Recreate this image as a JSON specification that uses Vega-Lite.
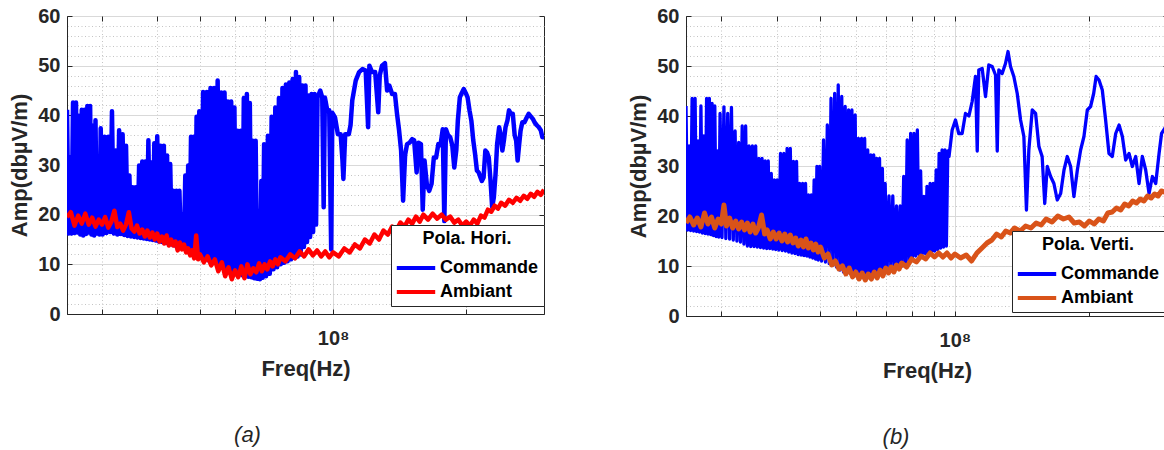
{
"$schema":"https://vega.github.io/schema/vega-lite/v6.json",
"background":"white",
"padding":{"left":8,"top":5,"right":0,"bottom":0},
"config":{
 "font":"Liberation Sans",
 "view":{"stroke":"#262626","strokeWidth":1},
 "axis":{"labelFont":"Liberation Sans","labelFontSize":20,"labelFontWeight":"bold","labelColor":"#262626","titleFont":"Liberation Sans","titleFontSize":22,"titleFontWeight":"bold","titleColor":"#262626","domainColor":"#262626","domainWidth":1,"tickColor":"#262626","tickWidth":1},
 "legend":{"labelFont":"Liberation Sans","titleFont":"Liberation Sans"},
 "title":{"font":"Liberation Sans"}
},
"datasets":{
"cmdA":[
{"f":25e6,"a":41.1},{"f":25.2e6,"a":16.2},{"f":25.4e6,"a":31.5},{"f":25.6e6,"a":16.2},{"f":25.8e6,"a":42.6},{"f":26e6,"a":16.3},{"f":26.2e6,"a":42.6},{"f":26.4e6,"a":16.4},{"f":26.6e6,"a":39.9},{"f":26.8e6,"a":16},{"f":27e6,"a":41.1},{"f":27.2e6,"a":15.8},{"f":27.4e6,"a":41.1},{"f":27.6e6,"a":16.1},{"f":27.8e6,"a":41.9},{"f":28e6,"a":16.4},{"f":28.2e6,"a":41.9},{"f":28.4e6,"a":16},{"f":28.6e6,"a":37.9},{"f":28.8e6,"a":15.8},{"f":29e6,"a":39},{"f":29.2e6,"a":16.2},{"f":29.4e6,"a":31},{"f":29.6e6,"a":16},{"f":29.8e6,"a":37.4},
{"f":30.1e6,"a":16},{"f":30.4e6,"a":35.7},{"f":30.7e6,"a":16.3},{"f":31e6,"a":35.7},{"f":31.3e6,"a":16.5},{"f":31.6e6,"a":40.8},{"f":31.9e6,"a":16.2},{"f":32.2e6,"a":32.9},{"f":32.5e6,"a":16},{"f":32.8e6,"a":37},{"f":33.1e6,"a":16.1},{"f":33.4e6,"a":36.2},{"f":33.7e6,"a":15.9},{"f":34e6,"a":33.9},{"f":34.3e6,"a":15.7},{"f":34.6e6,"a":27.9},{"f":34.9e6,"a":15.6},{"f":35.2e6,"a":25.5},{"f":35.5e6,"a":15.5},{"f":35.8e6,"a":25.5},{"f":36.1e6,"a":15.4},{"f":36.4e6,"a":29.9},{"f":36.7e6,"a":15.3},{"f":37e6,"a":30.7},{"f":37.3e6,"a":15.2},{"f":37.6e6,"a":30.7},{"f":37.9e6,"a":15.1},{"f":38.2e6,"a":35},{"f":38.5e6,"a":15},{"f":38.8e6,"a":30.5},{"f":39.1e6,"a":14.9},{"f":39.4e6,"a":34.4},{"f":39.7e6,"a":14.8},{"f":40e6,"a":35.8},
{"f":40.35e6,"a":14.6},{"f":40.7e6,"a":33.9},{"f":41.05e6,"a":14.5},{"f":41.4e6,"a":33.9},{"f":41.75e6,"a":14.3},{"f":42.1e6,"a":31.9},{"f":42.45e6,"a":14.2},{"f":42.8e6,"a":30.2},{"f":43.15e6,"a":14},{"f":43.5e6,"a":24.8},{"f":43.85e6,"a":13.8},{"f":44.2e6,"a":24.8},{"f":44.55e6,"a":13.6},{"f":44.9e6,"a":24.8},{"f":45.25e6,"a":13.4},{"f":45.6e6,"a":20},{"f":45.95e6,"a":13.2},{"f":46.3e6,"a":27.9},{"f":46.65e6,"a":13},{"f":47e6,"a":29.9},{"f":47.35e6,"a":12.8},{"f":47.7e6,"a":35.7},{"f":48.05e6,"a":12.5},{"f":48.4e6,"a":35.7},{"f":48.75e6,"a":12.2},{"f":49.1e6,"a":39.7},{"f":49.45e6,"a":11.9},{"f":49.8e6,"a":40.8},
{"f":50.3e6,"a":11.4},{"f":50.8e6,"a":44.7},{"f":51.3e6,"a":11.1},{"f":51.8e6,"a":44.7},{"f":52.3e6,"a":10.8},{"f":52.8e6,"a":45.5},{"f":53.3e6,"a":10.5},{"f":53.8e6,"a":45.5},{"f":54.3e6,"a":10.2},{"f":54.8e6,"a":47},{"f":55.3e6,"a":9.8},{"f":55.8e6,"a":44.6},{"f":56.3e6,"a":9.6},{"f":56.8e6,"a":44.6},{"f":57.3e6,"a":9.3},{"f":57.8e6,"a":42.8},{"f":58.3e6,"a":9},{"f":58.8e6,"a":42.8},{"f":59.3e6,"a":8.6},{"f":59.8e6,"a":41.6},{"f":60.3e6,"a":8.2},{"f":60.8e6,"a":36.9},{"f":61.3e6,"a":8},{"f":61.8e6,"a":36.9},{"f":62.3e6,"a":7.8},{"f":62.8e6,"a":43.5},{"f":63.3e6,"a":7.6},{"f":63.8e6,"a":44.3},{"f":64.3e6,"a":7.5},{"f":64.8e6,"a":42.5},{"f":65.3e6,"a":7.4},{"f":65.8e6,"a":34.9},{"f":66.3e6,"a":7.2},{"f":66.8e6,"a":34.9},{"f":67.3e6,"a":7.1},{"f":67.8e6,"a":20.8},{"f":68.3e6,"a":7},{"f":68.8e6,"a":26.8},{"f":69.3e6,"a":7.3},{"f":69.8e6,"a":34.2},
{"f":70.5e6,"a":7.6},{"f":71.2e6,"a":35.9},{"f":71.9e6,"a":8.1},{"f":72.6e6,"a":39.7},{"f":73.3e6,"a":9},{"f":74e6,"a":41.6},{"f":74.7e6,"a":9.4},{"f":75.4e6,"a":43.5},{"f":76.1e6,"a":10},{"f":76.8e6,"a":45.5},{"f":77.5e6,"a":10.3},{"f":78.2e6,"a":46.2},{"f":78.9e6,"a":10.6},{"f":79.6e6,"a":46.6},{"f":80.3e6,"a":11},{"f":81e6,"a":47.3},{"f":81.7e6,"a":11.3},{"f":82.4e6,"a":48.7},{"f":83.1e6,"a":11.6},{"f":83.8e6,"a":47.7},{"f":84.5e6,"a":12},{"f":85.2e6,"a":46},{"f":85.9e6,"a":13.5},{"f":86.6e6,"a":46},{"f":87.3e6,"a":14.5},{"f":88e6,"a":44},{"f":88.7e6,"a":15.5},{"f":89.4e6,"a":44.3},{"f":90.1e6,"a":16.5},{"f":90.8e6,"a":44.3},{"f":91.5e6,"a":18},{"f":92.2e6,"a":43.6},
{"f":93.5e6,"a":45},{"f":94.5e6,"a":43.6},{"f":95.2e6,"a":21.5},{"f":95.8e6,"a":43.6},{"f":97e6,"a":41},{"f":98e6,"a":41},{"f":99e6,"a":13},{"f":99.6e6,"a":40.5},{"f":101e6,"a":39.6},{"f":102.5e6,"a":36.2},{"f":104e6,"a":36.2},{"f":105e6,"a":30.9},{"f":105.5e6,"a":27.2},{"f":106.5e6,"a":36.2},{"f":108.5e6,"a":36.2},{"f":109.5e6,"a":38},{"f":110.5e6,"a":43},{"f":112.5e6,"a":47},{"f":114.5e6,"a":48.7},{"f":116.5e6,"a":49.3},{"f":118.5e6,"a":49},{"f":120e6,"a":37.6},{"f":120.8e6,"a":50},{"f":122.5e6,"a":48.7},{"f":124.5e6,"a":48.7},{"f":126.5e6,"a":40.6},{"f":127.5e6,"a":48},{"f":129e6,"a":50},{"f":131e6,"a":50.5},{"f":132.5e6,"a":45},{"f":134e6,"a":46},{"f":136e6,"a":44.3},{"f":138e6,"a":44.3},{"f":139.5e6,"a":40.3},{"f":141e6,"a":37},{"f":142.5e6,"a":32.9},{"f":144e6,"a":22.8},{"f":145.5e6,"a":32},{"f":147e6,"a":34.2},{"f":149e6,"a":34.5},{"f":151e6,"a":35.2},{"f":152.5e6,"a":35},{"f":154.5e6,"a":28.5},{"f":156e6,"a":34.5},{"f":158e6,"a":34.2},{"f":159.5e6,"a":21},{"f":161e6,"a":30.9},{"f":163e6,"a":26},{"f":165e6,"a":24.8},{"f":167e6,"a":26.2},{"f":169e6,"a":31.5},{"f":171e6,"a":31.5},{"f":173e6,"a":34.2},{"f":175e6,"a":34},{"f":177e6,"a":37.2},{"f":178.5e6,"a":18.7},{"f":180e6,"a":37.2},{"f":182e6,"a":36},{"f":184e6,"a":35.6},{"f":186e6,"a":34},{"f":188e6,"a":29.5},{"f":190e6,"a":33},{"f":191.5e6,"a":38.9},{"f":193.5e6,"a":43.6},{"f":195.5e6,"a":44.5},{"f":197.5e6,"a":45.3},{"f":199.5e6,"a":44.5},{"f":201.5e6,"a":43.6},{"f":203.5e6,"a":41},{"f":205.5e6,"a":38.9},{"f":207.5e6,"a":35},{"f":209.5e6,"a":32.2},{"f":211.5e6,"a":28.9},{"f":213.5e6,"a":28.5},{"f":215.5e6,"a":27.5},{"f":217e6,"a":26.8},{"f":219e6,"a":27.5},{"f":221e6,"a":32.9},{"f":223e6,"a":32.5},{"f":225e6,"a":31.5},{"f":227e6,"a":27},{"f":229e6,"a":21.5},{"f":231e6,"a":23.5},{"f":233e6,"a":28},{"f":235e6,"a":34.2},{"f":237.5e6,"a":37.6},{"f":239.5e6,"a":36},{"f":241.5e6,"a":32.9},{"f":243.5e6,"a":35},{"f":245.5e6,"a":37.6},{"f":248e6,"a":39},{"f":250e6,"a":41},{"f":252.5e6,"a":40.3},{"f":255e6,"a":40.3},{"f":257.5e6,"a":36},{"f":259.5e6,"a":34.9},{"f":261.5e6,"a":30.9},{"f":263.5e6,"a":34},{"f":265.5e6,"a":36.9},{"f":268e6,"a":38.6},{"f":271e6,"a":38.6},{"f":274e6,"a":39.5},{"f":277e6,"a":40.3},{"f":280e6,"a":39.8},{"f":283e6,"a":39.3},{"f":286e6,"a":38.5},{"f":289e6,"a":38},{"f":292e6,"a":37.6},{"f":295e6,"a":37},{"f":297.5e6,"a":35.6},{"f":300e6,"a":35.6}
],
"ambA":[
{"f":25e6,"a":19.5},{"f":25.5e6,"a":20.5},{"f":26e6,"a":17.8},{"f":26.5e6,"a":19.8},{"f":27e6,"a":18.2},{"f":27.5e6,"a":20.2},{"f":28e6,"a":18},{"f":28.5e6,"a":19.4},{"f":29e6,"a":17.6},{"f":29.5e6,"a":19},{"f":30e6,"a":18},{"f":30.5e6,"a":19.5},{"f":31e6,"a":17.4},{"f":31.5e6,"a":18.6},{"f":32e6,"a":20.8},{"f":32.5e6,"a":17.5},{"f":33e6,"a":18.2},{"f":33.5e6,"a":16.8},{"f":34e6,"a":18},{"f":34.5e6,"a":20.5},{"f":35e6,"a":17.2},{"f":35.5e6,"a":16.6},{"f":36e6,"a":17.8},{"f":36.5e6,"a":16.2},{"f":37e6,"a":17},{"f":37.5e6,"a":15.6},{"f":38e6,"a":16.8},{"f":38.5e6,"a":15.4},{"f":39e6,"a":16.4},{"f":39.5e6,"a":15},{"f":40e6,"a":16.2},{"f":40.5e6,"a":14.6},{"f":41e6,"a":15.6},{"f":41.5e6,"a":14.2},{"f":42e6,"a":15.8},{"f":42.5e6,"a":13.8},{"f":43e6,"a":15},{"f":43.5e6,"a":13.8},{"f":44e6,"a":14.6},{"f":44.5e6,"a":12.8},{"f":45e6,"a":14.4},{"f":45.5e6,"a":13},{"f":46e6,"a":14},{"f":46.5e6,"a":12.4},{"f":47e6,"a":13.2},{"f":47.5e6,"a":11.8},{"f":48e6,"a":12.8},{"f":48.5e6,"a":11.2},{"f":49e6,"a":15.8},{"f":49.5e6,"a":11},{"f":50e6,"a":12},{"f":51e6,"a":10.4},{"f":52e6,"a":11.6},{"f":53e6,"a":9.8},{"f":54e6,"a":11},{"f":55e6,"a":8.6},{"f":56e6,"a":10.4},{"f":57e6,"a":7.6},{"f":58e6,"a":9.4},{"f":59e6,"a":7},{"f":60e6,"a":8.8},{"f":61e6,"a":7.4},{"f":62e6,"a":9.6},{"f":63e6,"a":7.2},{"f":64e6,"a":10},{"f":65e6,"a":8},{"f":66e6,"a":9.2},{"f":67e6,"a":8.4},{"f":68e6,"a":10.2},{"f":69e6,"a":8.6},{"f":70e6,"a":10},{"f":71e6,"a":9},{"f":72e6,"a":10.6},{"f":73e6,"a":9.6},{"f":74e6,"a":11},{"f":75e6,"a":10},{"f":76e6,"a":11.4},{"f":78e6,"a":10.6},{"f":80e6,"a":12},{"f":82e6,"a":11.2},{"f":84e6,"a":12.6},{"f":86e6,"a":11.6},{"f":88e6,"a":13},{"f":90e6,"a":11.8},{"f":92e6,"a":12.8},{"f":94e6,"a":11.6},{"f":96e6,"a":12.6},{"f":98e6,"a":11.4},{"f":100e6,"a":12.4},{"f":103e6,"a":11.6},{"f":106e6,"a":13.2},{"f":109e6,"a":12.4},{"f":112e6,"a":14},{"f":115e6,"a":13.2},{"f":118e6,"a":15},{"f":121e6,"a":14.2},{"f":124e6,"a":16},{"f":127e6,"a":15},{"f":130e6,"a":16.8},{"f":133e6,"a":16},{"f":136e6,"a":17.6},{"f":139e6,"a":16.8},{"f":142e6,"a":18.4},{"f":145e6,"a":17.6},{"f":148e6,"a":19},{"f":151e6,"a":18.2},{"f":154e6,"a":19.6},{"f":157e6,"a":18.6},{"f":160e6,"a":20},{"f":164e6,"a":19},{"f":168e6,"a":20.2},{"f":172e6,"a":19.2},{"f":176e6,"a":20},{"f":180e6,"a":19},{"f":184e6,"a":19.6},{"f":188e6,"a":18.4},{"f":192e6,"a":19},{"f":196e6,"a":17.8},{"f":200e6,"a":18.6},{"f":204e6,"a":17.8},{"f":208e6,"a":19},{"f":212e6,"a":18.2},{"f":216e6,"a":19.8},{"f":220e6,"a":19.4},{"f":224e6,"a":21},{"f":228e6,"a":20.6},{"f":232e6,"a":21.8},{"f":236e6,"a":21.2},{"f":240e6,"a":22.4},{"f":245e6,"a":21.8},{"f":250e6,"a":23},{"f":255e6,"a":22.4},{"f":260e6,"a":23.4},{"f":265e6,"a":22.8},{"f":270e6,"a":23.8},{"f":275e6,"a":23.2},{"f":280e6,"a":24.2},{"f":285e6,"a":23.6},{"f":290e6,"a":24.6},{"f":295e6,"a":24},{"f":300e6,"a":25}
],
"cmdB":[
{"f":25e6,"a":42},{"f":25.2e6,"a":17.2},{"f":25.4e6,"a":34},{"f":25.6e6,"a":17.1},{"f":25.8e6,"a":43.5},{"f":26e6,"a":17},{"f":26.2e6,"a":43.5},{"f":26.4e6,"a":16.9},{"f":26.6e6,"a":35},{"f":26.8e6,"a":16.8},{"f":27e6,"a":42},{"f":27.2e6,"a":16.6},{"f":27.4e6,"a":36},{"f":27.6e6,"a":16.5},{"f":27.8e6,"a":43.5},{"f":28e6,"a":16.4},{"f":28.2e6,"a":43.5},{"f":28.4e6,"a":16.3},{"f":28.6e6,"a":42.5},{"f":28.8e6,"a":16.1},{"f":29e6,"a":42},{"f":29.2e6,"a":15.9},{"f":29.4e6,"a":33},{"f":29.6e6,"a":15.8},{"f":29.8e6,"a":40.5},
{"f":30.1e6,"a":15.7},{"f":30.4e6,"a":41.8},{"f":30.7e6,"a":15.5},{"f":31e6,"a":40.5},{"f":31.3e6,"a":15.4},{"f":31.6e6,"a":41.7},{"f":31.9e6,"a":15.2},{"f":32.2e6,"a":37},{"f":32.5e6,"a":15},{"f":32.8e6,"a":34.7},{"f":33.1e6,"a":14.8},{"f":33.4e6,"a":38},{"f":33.7e6,"a":14.4},{"f":34e6,"a":38},{"f":34.3e6,"a":14},{"f":34.6e6,"a":34},{"f":34.9e6,"a":13.9},{"f":35.2e6,"a":34},{"f":35.5e6,"a":13.9},{"f":35.8e6,"a":34},{"f":36.1e6,"a":13.8},{"f":36.4e6,"a":31.5},{"f":36.7e6,"a":13.7},{"f":37e6,"a":31.5},{"f":37.3e6,"a":13.6},{"f":37.6e6,"a":31},{"f":37.9e6,"a":13.5},{"f":38.2e6,"a":31},{"f":38.5e6,"a":13.5},{"f":38.8e6,"a":28.5},{"f":39.1e6,"a":13.4},{"f":39.4e6,"a":27.2},{"f":39.7e6,"a":13.3},{"f":40e6,"a":27.2},
{"f":40.35e6,"a":13.2},{"f":40.7e6,"a":32.5},{"f":41.05e6,"a":13.1},{"f":41.4e6,"a":32.5},{"f":41.75e6,"a":13},{"f":42.1e6,"a":33.5},{"f":42.45e6,"a":12.8},{"f":42.8e6,"a":33.5},{"f":43.15e6,"a":12.6},{"f":43.5e6,"a":30.9},{"f":43.85e6,"a":12.5},{"f":44.2e6,"a":30.9},{"f":44.55e6,"a":12.3},{"f":44.9e6,"a":26.5},{"f":45.25e6,"a":12.2},{"f":45.6e6,"a":26.5},{"f":45.95e6,"a":12.1},{"f":46.3e6,"a":26.5},{"f":46.65e6,"a":12},{"f":47e6,"a":24.2},{"f":47.35e6,"a":11.8},{"f":47.7e6,"a":24.2},{"f":48.05e6,"a":11.6},{"f":48.4e6,"a":27.2},{"f":48.75e6,"a":11.4},{"f":49.1e6,"a":29.9},{"f":49.45e6,"a":11.2},{"f":49.8e6,"a":29.9},
{"f":50.3e6,"a":11},{"f":50.8e6,"a":35.2},{"f":51.3e6,"a":10.8},{"f":51.8e6,"a":38.2},{"f":52.3e6,"a":10.5},{"f":52.8e6,"a":43.5},{"f":53.3e6,"a":10.2},{"f":53.8e6,"a":44.5},{"f":54.3e6,"a":9.8},{"f":54.8e6,"a":46.2},{"f":55.3e6,"a":9.2},{"f":55.8e6,"a":43.9},{"f":56.3e6,"a":8.8},{"f":56.8e6,"a":41.9},{"f":57.3e6,"a":8.6},{"f":57.8e6,"a":41.2},{"f":58.3e6,"a":8.5},{"f":58.8e6,"a":41.2},{"f":59.3e6,"a":8.5},{"f":59.8e6,"a":40.2},{"f":60.3e6,"a":8.4},{"f":60.8e6,"a":35.5},{"f":61.3e6,"a":8.4},{"f":61.8e6,"a":35.5},{"f":62.3e6,"a":8.4},{"f":62.8e6,"a":35.5},{"f":63.3e6,"a":8.5},{"f":63.8e6,"a":33.2},{"f":64.3e6,"a":8.5},{"f":64.8e6,"a":32.2},{"f":65.3e6,"a":8.6},{"f":65.8e6,"a":32.2},{"f":66.3e6,"a":8.7},{"f":66.8e6,"a":31.5},{"f":67.3e6,"a":8.8},{"f":67.8e6,"a":31.5},{"f":68.3e6,"a":8.9},{"f":68.8e6,"a":29.5},{"f":69.3e6,"a":9},{"f":69.8e6,"a":26.5},
{"f":70.5e6,"a":9},{"f":71.2e6,"a":24},{"f":71.9e6,"a":9.1},{"f":72.6e6,"a":24},{"f":73.3e6,"a":9.3},{"f":74e6,"a":22},{"f":74.7e6,"a":9.5},{"f":75.4e6,"a":22},{"f":76.1e6,"a":10},{"f":76.8e6,"a":27.9},{"f":77.5e6,"a":10.5},{"f":78.2e6,"a":35.2},{"f":78.9e6,"a":11},{"f":79.6e6,"a":36.5},{"f":80.3e6,"a":11.6},{"f":81e6,"a":36.5},{"f":81.7e6,"a":12},{"f":82.4e6,"a":37.2},{"f":83.1e6,"a":12.3},{"f":83.8e6,"a":29},{"f":84.5e6,"a":12.4},{"f":85.2e6,"a":23.9},{"f":85.9e6,"a":12.5},{"f":86.6e6,"a":25.9},{"f":87.3e6,"a":12.6},{"f":88e6,"a":26.5},{"f":88.7e6,"a":12.8},{"f":89.4e6,"a":26.5},{"f":90.1e6,"a":13},{"f":90.8e6,"a":29.2},{"f":91.5e6,"a":13.3},{"f":92.2e6,"a":32.5},{"f":92.9e6,"a":13.6},{"f":93.6e6,"a":33.2},{"f":94.3e6,"a":13.8},{"f":95e6,"a":33.2},{"f":95.7e6,"a":14},{"f":96.4e6,"a":33},
{"f":97e6,"a":31.9},{"f":98.6e6,"a":37.2},{"f":100.3e6,"a":39.2},{"f":102e6,"a":36.5},{"f":103.8e6,"a":36.5},{"f":105.6e6,"a":40.5},{"f":107.5e6,"a":40},{"f":109.3e6,"a":42.9},{"f":111.2e6,"a":47.9},{"f":112.2e6,"a":33},{"f":113.1e6,"a":49.2},{"f":115.1e6,"a":49.5},{"f":117.1e6,"a":43.9},{"f":119.1e6,"a":50.2},{"f":121.2e6,"a":49.9},{"f":123.3e6,"a":48.2},{"f":124.4e6,"a":33},{"f":125.4e6,"a":49.2},{"f":127.6e6,"a":48.5},{"f":129.8e6,"a":50.5},{"f":131.5e6,"a":52.9},{"f":133.2e6,"a":49.9},{"f":135.5e6,"a":47.9},{"f":137.9e6,"a":44.5},{"f":140.3e6,"a":39.2},{"f":142.7e6,"a":35.9},{"f":144.6e6,"a":21.2},{"f":146.4e6,"a":33.2},{"f":149e6,"a":41.2},{"f":151.6e6,"a":40.5},{"f":154.2e6,"a":33.9},{"f":156.8e6,"a":31.9},{"f":158.9e6,"a":22.5},{"f":161e6,"a":29.9},{"f":163.8e6,"a":27.9},{"f":166.6e6,"a":26.5},{"f":169.5e6,"a":23.2},{"f":172.5e6,"a":24.5},{"f":175.5e6,"a":29.2},{"f":178.5e6,"a":31.9},{"f":181.6e6,"a":29.9},{"f":184.7e6,"a":23.9},{"f":188e6,"a":29.2},{"f":191.2e6,"a":33.2},{"f":194.5e6,"a":35.9},{"f":197.9e6,"a":41.2},{"f":201.3e6,"a":41.9},{"f":204.5e6,"a":44.5},{"f":207.1e6,"a":47.9},{"f":210.2e6,"a":47.2},{"f":213.8e6,"a":45.2},{"f":217.5e6,"a":39.2},{"f":221.3e6,"a":32.5},{"f":225.1e6,"a":31.9},{"f":229.1e6,"a":36.5},{"f":233.1e6,"a":38.2},{"f":237.1e6,"a":35.9},{"f":241.2e6,"a":31.2},{"f":245.4e6,"a":32.5},{"f":249.6e6,"a":29.9},{"f":254e6,"a":31.9},{"f":258.4e6,"a":26.5},{"f":262.8e6,"a":31.9},{"f":267.4e6,"a":29.2},{"f":272.1e6,"a":24.5},{"f":276.8e6,"a":27.9},{"f":281.6e6,"a":26.5},{"f":286.5e6,"a":32.5},{"f":290.2e6,"a":36.5},{"f":295e6,"a":37.5},{"f":300e6,"a":38.5}
],
"ambB":[
{"f":25e6,"a":18.6},{"f":25.5e6,"a":19.8},{"f":26e6,"a":18.2},{"f":26.5e6,"a":19.6},{"f":27e6,"a":17.8},{"f":27.5e6,"a":20.6},{"f":28e6,"a":18.4},{"f":28.5e6,"a":19.8},{"f":29e6,"a":17.6},{"f":29.5e6,"a":19.4},{"f":30e6,"a":18.4},{"f":30.4e6,"a":22.2},{"f":30.8e6,"a":18},{"f":31.3e6,"a":19.6},{"f":31.8e6,"a":17.6},{"f":32.3e6,"a":19},{"f":32.8e6,"a":17.4},{"f":33.3e6,"a":18.8},{"f":33.8e6,"a":17.2},{"f":34.3e6,"a":18.6},{"f":34.8e6,"a":16.8},{"f":35.3e6,"a":18.4},{"f":35.8e6,"a":16.6},{"f":36.3e6,"a":17.6},{"f":36.9e6,"a":20.2},{"f":37.5e6,"a":16.4},{"f":38e6,"a":17.2},{"f":38.6e6,"a":15.4},{"f":39.2e6,"a":16.8},{"f":39.8e6,"a":15.4},{"f":40.4e6,"a":16.6},{"f":41e6,"a":15},{"f":41.6e6,"a":16.4},{"f":42.2e6,"a":14.8},{"f":42.8e6,"a":16.2},{"f":43.4e6,"a":14.6},{"f":44e6,"a":15.6},{"f":44.6e6,"a":14},{"f":45.2e6,"a":15.2},{"f":45.8e6,"a":13.8},{"f":46.4e6,"a":15.4},{"f":47e6,"a":13.6},{"f":47.6e6,"a":14.6},{"f":48.2e6,"a":13.2},{"f":48.8e6,"a":14.4},{"f":49.4e6,"a":12.8},{"f":50e6,"a":13.8},{"f":51e6,"a":11.6},{"f":52e6,"a":12.4},{"f":53e6,"a":10.2},{"f":54e6,"a":11},{"f":55e6,"a":9.4},{"f":56e6,"a":10},{"f":57e6,"a":8.4},{"f":58e6,"a":9.6},{"f":59e6,"a":7.8},{"f":60e6,"a":8.8},{"f":61e6,"a":7.4},{"f":62e6,"a":8.6},{"f":63e6,"a":7.2},{"f":64e6,"a":8.4},{"f":65e6,"a":7.4},{"f":66e6,"a":8.8},{"f":67e6,"a":7.6},{"f":68e6,"a":9.2},{"f":69e6,"a":8},{"f":70e6,"a":9.6},{"f":71e6,"a":8.6},{"f":72e6,"a":9.8},{"f":73e6,"a":8.8},{"f":74e6,"a":10.2},{"f":75e6,"a":9.4},{"f":76e6,"a":10.6},{"f":78e6,"a":9.8},{"f":80e6,"a":11.4},{"f":82e6,"a":10.8},{"f":84e6,"a":12},{"f":86e6,"a":11.4},{"f":88e6,"a":12.6},{"f":90e6,"a":11.8},{"f":92e6,"a":12.6},{"f":94e6,"a":11.8},{"f":96e6,"a":12.6},{"f":98e6,"a":11.6},{"f":100e6,"a":12.4},{"f":103e6,"a":11.6},{"f":106e6,"a":12.2},{"f":109e6,"a":11},{"f":112e6,"a":12.6},{"f":115e6,"a":13.6},{"f":118e6,"a":14.6},{"f":121e6,"a":15.2},{"f":124e6,"a":16.4},{"f":127e6,"a":15.8},{"f":130e6,"a":17},{"f":133e6,"a":16.6},{"f":136e6,"a":17.6},{"f":140e6,"a":17},{"f":144e6,"a":18},{"f":148e6,"a":17.6},{"f":152e6,"a":18.6},{"f":156e6,"a":18.2},{"f":160e6,"a":19.4},{"f":165e6,"a":18.8},{"f":170e6,"a":20},{"f":175e6,"a":19.4},{"f":180e6,"a":19.8},{"f":185e6,"a":18.6},{"f":190e6,"a":18.8},{"f":195e6,"a":18},{"f":200e6,"a":19},{"f":205e6,"a":18.4},{"f":210e6,"a":19.4},{"f":215e6,"a":19},{"f":220e6,"a":20.6},{"f":225e6,"a":20.8},{"f":230e6,"a":21.6},{"f":235e6,"a":21.2},{"f":240e6,"a":22.4},{"f":245e6,"a":22},{"f":250e6,"a":23},{"f":255e6,"a":22.6},{"f":260e6,"a":23.4},{"f":265e6,"a":23},{"f":270e6,"a":24},{"f":275e6,"a":23.6},{"f":280e6,"a":24.4},{"f":285e6,"a":24},{"f":290e6,"a":25},{"f":295e6,"a":24.8},{"f":300e6,"a":25.6}
]
},
"spacing":82,
"resolve":{"scale":{"color":"independent","x":"independent","y":"independent"},"legend":{"color":"independent"},"axis":{"x":"independent","y":"independent"}},
"hconcat":[
{
"width":477,"height":298,
"title":{"text":"(a)","orient":"bottom","anchor":"middle","frame":"group","offset":46,"dx":-58,"fontSize":22,"fontStyle":"italic","fontWeight":"normal","color":"#262626"},
"layer":[
{"data":{"name":"cmdA"},"mark":{"type":"line","strokeWidth":4.5,"strokeJoin":"round","clip":true},
"encoding":{
"x":{"field":"f","type":"quantitative","scale":{"type":"log","domain":[25000000,300000000],"nice":false},
 "axis":{"orient":"bottom","values":[30000000,40000000,50000000,60000000,70000000,80000000,90000000,100000000,200000000],"labelExpr":"datum.value == 100000000 ? '10⁸' : ''","labelOverlap":false,"labelFlush":false,"tickSize":-5,"labelPadding":19,"title":"Freq(Hz)","titlePadding":10,"grid":true,"gridColor":{"condition":{"test":"datum.value == 100000000","value":"#d9d9d9"},"value":"#c4c4c4"},"gridDash":{"condition":{"test":"datum.value == 100000000","value":[]},"value":[1,2.5]}}},
"y":{"field":"a","type":"quantitative","scale":{"domain":[0,60],"nice":false},
 "axis":{"orient":"left","values":[0,2,4,6,8,10,12,14,16,18,20,22,24,26,28,30,32,34,36,38,40,42,44,46,48,50,52,54,56,58,60],"labelExpr":"datum.value % 10 == 0 ? datum.label : ''","labelOverlap":false,"labelFlush":false,"tickOpacity":{"condition":{"test":"datum.value % 10 == 0","value":1},"value":0},"tickSize":-5,"labelPadding":12,"title":"Amp(dbµV/m)","titlePadding":6,"grid":true,"gridColor":{"condition":{"test":"datum.value % 10 == 0","value":"#d9d9d9"},"value":"#c4c4c4"},"gridDash":{"condition":{"test":"datum.value % 10 == 0","value":[]},"value":[1,2.5]}}},
"color":{"datum":"Commande","type":"nominal","scale":{"domain":["Commande","Ambiant"],"range":["#0000ff","#ff0000"]},
 "legend":{"title":"Pola. Hori.","orient":"none","legendX":324,"legendY":209,"direction":"vertical","fillColor":"white","strokeColor":"#262626","padding":5,"titleFontSize":18,"titleFontWeight":"bold","titleColor":"#000000","titleAnchor":"middle","titlePadding":6,"labelFontSize":18,"labelFontWeight":"bold","labelColor":"#000000","symbolType":"M-1.6,0L1.6,0","symbolStrokeWidth":4,"symbolSize":576,"symbolOffset":6,"labelOffset":10,"rowPadding":1}}
}},
{"data":{"name":"ambA"},"mark":{"type":"line","strokeWidth":4.5,"strokeJoin":"round","clip":true},
"encoding":{
"x":{"field":"f","type":"quantitative","axis":{"orient":"top","values":[30000000,40000000,50000000,60000000,70000000,80000000,90000000,100000000,200000000],"labels":false,"title":null,"grid":false,"domain":false,"tickSize":-5}},
"y":{"field":"a","type":"quantitative","axis":{"orient":"right","values":[0,10,20,30,40,50,60],"labels":false,"title":null,"grid":false,"domain":false,"tickSize":-5}},
"color":{"datum":"Ambiant","type":"nominal"}
}}
],
"resolve":{"axis":{"x":"independent","y":"independent"}}
},
{
"width":482,"height":300,
"title":{"text":"(b)","orient":"bottom","anchor":"middle","frame":"group","offset":46,"dx":-31,"fontSize":22,"fontStyle":"italic","fontWeight":"normal","color":"#262626"},
"layer":[
{"data":{"name":"cmdB"},"mark":{"type":"line","strokeWidth":3.3,"strokeJoin":"round","clip":true},
"encoding":{
"x":{"field":"f","type":"quantitative","scale":{"type":"log","domain":[25000000,300000000],"nice":false},
 "axis":{"orient":"bottom","values":[30000000,40000000,50000000,60000000,70000000,80000000,90000000,100000000,200000000],"labelExpr":"datum.value == 100000000 ? '10⁸' : ''","labelOverlap":false,"labelFlush":false,"tickSize":-5,"labelPadding":19,"title":"Freq(Hz)","titlePadding":10,"grid":true,"gridColor":{"condition":{"test":"datum.value == 100000000","value":"#d9d9d9"},"value":"#c4c4c4"},"gridDash":{"condition":{"test":"datum.value == 100000000","value":[]},"value":[1,2.5]}}},
"y":{"field":"a","type":"quantitative","scale":{"domain":[0,60],"nice":false},
 "axis":{"orient":"left","values":[0,2,4,6,8,10,12,14,16,18,20,22,24,26,28,30,32,34,36,38,40,42,44,46,48,50,52,54,56,58,60],"labelExpr":"datum.value % 10 == 0 ? datum.label : ''","labelOverlap":false,"labelFlush":false,"tickOpacity":{"condition":{"test":"datum.value % 10 == 0","value":1},"value":0},"tickSize":-5,"labelPadding":12,"title":"Amp(dbµV/m)","titlePadding":6,"grid":true,"gridColor":{"condition":{"test":"datum.value % 10 == 0","value":"#d9d9d9"},"value":"#c4c4c4"},"gridDash":{"condition":{"test":"datum.value % 10 == 0","value":[]},"value":[1,2.5]}}},
"color":{"datum":"Commande","type":"nominal","scale":{"domain":["Commande","Ambiant"],"range":["#0000ff","#d95319"]},
 "legend":{"title":"Pola. Verti.","orient":"none","legendX":326,"legendY":215,"direction":"vertical","fillColor":"white","strokeColor":"#262626","padding":5,"titleFontSize":18,"titleFontWeight":"bold","titleColor":"#000000","titleAnchor":"middle","titlePadding":6,"labelFontSize":18,"labelFontWeight":"bold","labelColor":"#000000","symbolType":"M-1.6,0L1.6,0","symbolStrokeWidth":4,"symbolSize":576,"symbolOffset":6,"labelOffset":10,"rowPadding":1}}
}},
{"data":{"name":"ambB"},"mark":{"type":"line","strokeWidth":5,"strokeJoin":"round","clip":true},
"encoding":{
"x":{"field":"f","type":"quantitative","axis":{"orient":"top","values":[30000000,40000000,50000000,60000000,70000000,80000000,90000000,100000000,200000000],"labels":false,"title":null,"grid":false,"domain":false,"tickSize":-5}},
"y":{"field":"a","type":"quantitative","axis":{"orient":"right","values":[0,10,20,30,40,50,60],"labels":false,"title":null,"grid":false,"domain":false,"tickSize":-5}},
"color":{"datum":"Ambiant","type":"nominal"}
}}
],
"resolve":{"axis":{"x":"independent","y":"independent"}}
}
]
}
